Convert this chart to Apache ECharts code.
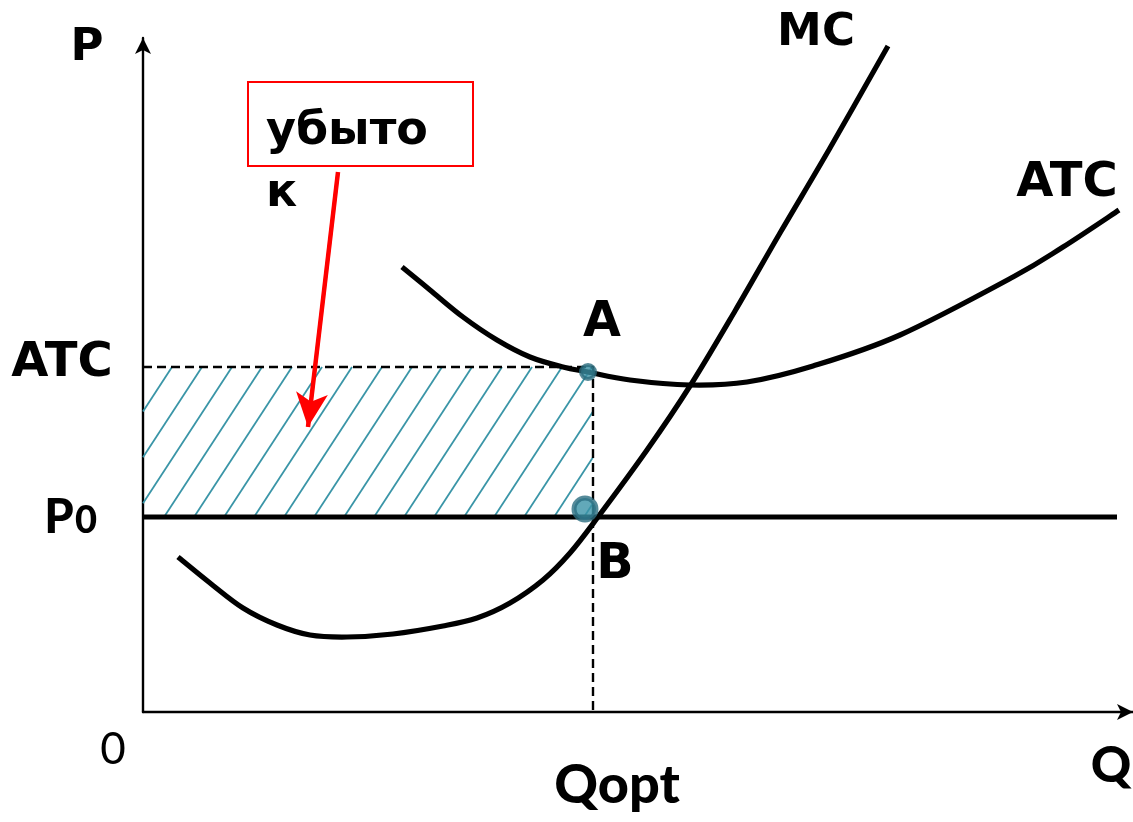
<!DOCTYPE html>
<html>
<head>
<meta charset="utf-8">
<script src="https://cdn.jsdelivr.net/npm/echarts@6/dist/echarts.min.js"></script>
<style>
    html, body { margin: 0; padding: 0; background: #fff; }
    #chart { width: 1133px; height: 822px; }
</style>
</head>
<body>
<div id="chart"></div>
<script>
// кривые предельных (MC) и средних общих (ATC) издержек, (Q, P)
var mcQ = [0.35, 0.67, 1.00, 1.34, 1.67, 2.04, 2.50, 3.00, 3.34, 3.67, 4.00, 4.27, 4.55, 5.04, 5.47, 5.92, 6.37, 6.87, 7.45];
var mcP = [1.55, 1.29, 1.04, 0.87, 0.77, 0.75, 0.78, 0.86, 0.94, 1.09, 1.32, 1.59, 1.95, 2.62, 3.26, 4.01, 4.79, 5.64, 6.66];
var atcQ = [2.59, 2.87, 3.20, 3.54, 3.87, 4.20, 4.45, 4.87, 5.47, 6.04, 6.70, 7.57, 8.70, 9.20, 9.76];
var atcP = [4.45, 4.22, 3.95, 3.72, 3.55, 3.45, 3.40, 3.32, 3.27, 3.30, 3.46, 3.77, 4.35, 4.65, 5.02];

var qOpt = 4.50;      // Qopt
var atcLevel = 3.45;  // ATC при Qopt
var p0 = 1.95;        // цена P0
var p0End = 9.74;
var pointA = [4.45, 3.40];
var pointB = [4.42, 2.03];
var arrowFrom = [1.95, 5.40];
var arrowTo = [1.65, 2.85];

// штриховка убытка
var hatchStep = 0.30;
var hatchOffset = 0.29;
var hatchSlant = 0.653;

function pairs (xs, ys) {
    return xs.map(function (x, i) { return [x, ys[i]] })
}

var myChart = echarts.init(document.getElementById('chart'))

var boldFont = '"DejaVu Sans", sans-serif'
var gillFont = 'Lato, sans-serif'

function label (text, x, y, size, font, weight, align) {
    return {
        type: 'text',
        x: x,
        y: y,
        style: {
            text: text,
            fontFamily: font || boldFont,
            fontSize: size,
            fontWeight: weight || 'bold',
            fill: '#000',
            align: align || 'center',
            verticalAlign: 'middle'
        }
    }
}

// плавная кривая через точки (Catmull-Rom), в координатах осей
function curveSeries (name, xs, ys) {
    return {
        name: name,
        type: 'custom',
        silent: true,
        z: 4,
        data: [[xs[0], ys[0]]],
        renderItem: function (params, api) {
            var p = xs.map(function (x, i) { return api.coord([x, ys[i]]) })
            var d = 'M' + p[0][0] + ' ' + p[0][1]
            for (var i = 0; i < p.length - 1; i++) {
                var a = p[i - 1] || p[i]
                var b = p[i]
                var c = p[i + 1]
                var e = p[i + 2] || c
                var c1x = b[0] + (c[0] - a[0]) / 6
                var c1y = b[1] + (c[1] - a[1]) / 6
                var c2x = c[0] - (e[0] - b[0]) / 6
                var c2y = c[1] - (e[1] - b[1]) / 6
                d += ' C' + c1x + ' ' + c1y + ' ' + c2x + ' ' + c2y + ' ' + c[0] + ' ' + c[1]
            }
            return {
                type: 'path',
                shape: { pathData: d },
                style: { fill: 'none', stroke: '#000', lineWidth: 5.2, lineJoin: 'round' }
            }
        }
    }
}

myChart.setOption({
    animation: false,
    grid: {
        left: 143,
        top: 38,
        width: 990,
        height: 674
    },
    xAxis: {
        type: 'value',
        min: 0,
        max: 9.9,
        splitLine: { show: false },
        axisTick: { show: false },
        axisLabel: { show: false },
        axisLine: {
            symbol: ['none', 'arrow'],
            symbolSize: [12, 16],
            lineStyle: { color: '#000', width: 2.4 }
        }
    },
    yAxis: {
        type: 'value',
        min: 0,
        max: 6.74,
        splitLine: { show: false },
        axisTick: { show: false },
        axisLabel: { show: false },
        axisLine: {
            symbol: ['none', 'arrow'],
            symbolSize: [12, 16],
            lineStyle: { color: '#000', width: 2.4 }
        }
    },
    series: [
        {
            // штриховка прямоугольника убытка
            type: 'custom',
            silent: true,
            z: 1,
            data: [[0, p0]],
            renderItem: function (params, api) {
                var children = []
                var h = atcLevel - p0
                for (var k = -20; k < 40; k++) {
                    var xt = hatchOffset + k * hatchStep
                    var xb = xt - hatchSlant * h
                    var dx = xt - xb
                    var t0 = Math.max(0, (0 - xb) / dx)
                    var t1 = Math.min(1, (qOpt - xb) / dx)
                    if (t0 >= t1) continue
                    var a = api.coord([xb + t0 * dx, p0 + t0 * h])
                    var b = api.coord([xb + t1 * dx, p0 + t1 * h])
                    children.push({
                        type: 'line',
                        shape: { x1: a[0], y1: a[1], x2: b[0], y2: b[1] },
                        style: { stroke: '#3a95a7', lineWidth: 1.8 }
                    })
                }
                return { type: 'group', children: children }
            }
        },
        {
            // пунктир ATC и Qopt
            type: 'line',
            silent: true,
            symbol: 'none',
            z: 2,
            lineStyle: { color: '#000', width: 2.4, type: [9, 5] },
            data: [[0, atcLevel], [qOpt, atcLevel], [qOpt, 0]]
        },
        {
            // цена P0
            type: 'line',
            silent: true,
            symbol: 'none',
            z: 3,
            lineStyle: { color: '#000', width: 5 },
            data: [[0, p0], [p0End, p0]],
            markLine: {
                silent: true,
                symbol: ['none', 'arrow'],
                symbolSize: [24, 34],
                label: { show: false },
                lineStyle: { color: '#ff0000', width: 4.5, type: 'solid' },
                data: [[{ coord: arrowFrom }, { coord: arrowTo }]]
            }
        },
        curveSeries('MC', mcQ, mcP),
        curveSeries('ATC', atcQ, atcP),
        {
            type: 'scatter',
            z: 5,
            symbolSize: 14,
            itemStyle: { color: '#3a8ea2', borderColor: '#2a6b7d', borderWidth: 4 },
            data: [pointA]
        },
        {
            type: 'scatter',
            z: 5,
            symbolSize: 22,
            itemStyle: { color: '#3b93a8', borderColor: '#2c6e81', borderWidth: 5 },
            data: [pointB]
        }
    ],
    graphic: [
        label('P', 87, 48, 45),
        label('MC', 816, 33, 45),
        label('ATC', 1067, 184, 48),
        label('ATC', 62, 364, 48),
        label('A', 602, 323, 49),
        label('B', 615, 565, 49),
        label('P', 59, 518, 47, gillFont, 900),
        label('0', 86, 521, 38, gillFont, 900),
        label('0', 113, 750, 44, gillFont, 'normal'),
        label('Qopt', 617, 786, 54, gillFont, 900),
        label('Q', 1111, 766, 50, gillFont, 900),
        {
            type: 'rect',
            shape: { x: 248, y: 82, width: 225, height: 84 },
            style: { fill: 'none', stroke: '#ff0000', lineWidth: 2 }
        },
        label('убыто', 266, 132, 46, boldFont, 'bold', 'left'),
        label('к', 266, 194, 46, boldFont, 'bold', 'left')
    ]
})
</script>
</body>
</html>
